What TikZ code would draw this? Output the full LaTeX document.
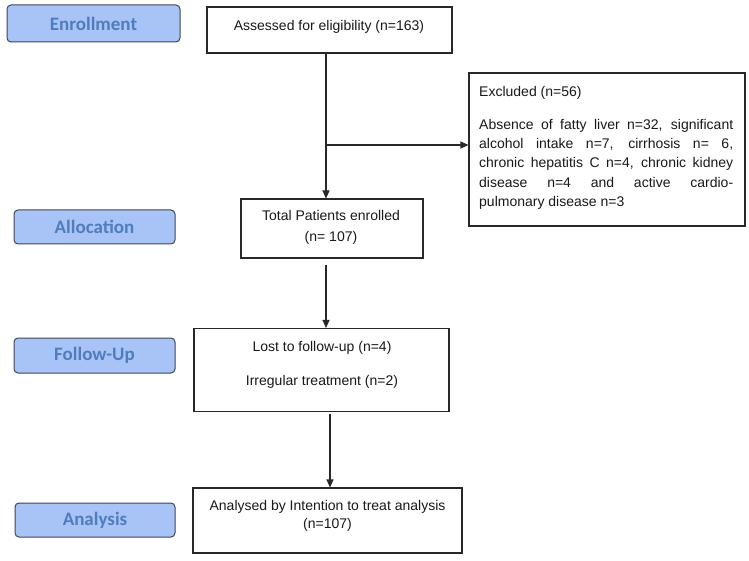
\documentclass[tikz,border=0pt]{standalone}
\usepackage{fontspec}
\setmainfont{Liberation Sans}
\newfontfamily\labelfont{Carlito}
\usetikzlibrary{arrows.meta}
\definecolor{lblfill}{RGB}{168,196,247}
\definecolor{lbltext}{RGB}{80,124,190}
\definecolor{lbledge}{RGB}{64,70,86}
\definecolor{boxedge}{RGB}{40,40,40}
\definecolor{txtc}{RGB}{25,25,25}
\begin{document}
\begin{tikzpicture}[x=1pt,y=-1pt,
  stage/.style={draw=lbledge,line width=1pt,fill=lblfill,rounded corners=4pt,
    text=lbltext,font=\labelfont\bfseries\fontsize{19}{22}\selectfont,inner sep=0pt},
  flowbox/.style={draw=boxedge,line width=1.1pt,inner sep=0pt},
  txt/.style={text=txtc,font=\fontsize{14}{18}\selectfont,align=center,inner sep=0pt},
  arr/.style={draw=boxedge,line width=1.1pt,-{Triangle[length=8pt,width=7pt]}},
  ln/.style={draw=boxedge,line width=1.1pt}]
\useasboundingbox[fill=white] (0,0) rectangle (749,561);

% stage labels
\node[stage,minimum width=173pt,minimum height=37pt] (enr) at (93.5,23.5) {Enrollment};
\node[stage,minimum width=161pt,minimum height=34pt] (alo) at (94.5,227) {Allocation};
\node[stage,minimum width=161pt,minimum height=35pt] (fol) at (94.5,355.5) {Follow-Up};
\node[stage,minimum width=160pt,minimum height=34pt] (ana) at (95,520) {Analysis};

% flow boxes
\node[flowbox,minimum width=245pt,minimum height=46pt] (assess) at (329.5,30) {};
\node[txt] (assesst) at (329,27) {Assessed for eligibility (n=163)};

\node[flowbox,minimum width=276pt,minimum height=153pt] (excl) at (607,149.5) {};
\node[txt,anchor=west] (exclt) at (479,92.5) {Excluded (n=56)};
\node[text=txtc,font=\fontsize{14}{19.3}\selectfont,inner sep=0pt,anchor=north west,align=left] (exclp) at (479,119)
  {\makebox[254pt][s]{Absence of fatty liver n=32, significant}\\
   \makebox[254pt][s]{alcohol intake n=7, cirrhosis n= 6,}\\
   \makebox[254pt][s]{chronic hepatitis C n=4, chronic kidney}\\
   \makebox[254pt][s]{disease n=4 and active cardio-}\\
   pulmonary disease n=3};

\node[flowbox,minimum width=182pt,minimum height=59pt] (total) at (332,228.5) {};
\node[txt,font=\fontsize{14}{21}\selectfont] (totalt) at (331,227.5) {Total Patients enrolled\\(n= 107)};

\node[flowbox,minimum width=255pt,minimum height=83pt] (fu) at (321.5,370) {};
\node[txt,font=\fontsize{14}{34}\selectfont] (fut) at (322,365) {Lost to follow-up (n=4)\\Irregular treatment (n=2)};

\node[flowbox,minimum width=269pt,minimum height=65pt] (an) at (327.5,520.5) {};
\node[txt,font=\fontsize{14}{18}\selectfont] (ant) at (327.5,516) {Analysed by Intention to treat analysis\\(n=107)};

% connectors
\coordinate (v1) at (326,0);
\coordinate (v2) at (330,0);
\coordinate (br) at (326,145);
\draw[arr] (assess.south -| v1) -- (total.north -| v1);
\draw[arr] (br) -- (br -| excl.west);
\draw[arr,shorten <=6pt] (total.south -| v1) -- (fu.north -| v1);
\draw[arr,shorten <=2pt] (fu.south -| v2) -- (an.north -| v2);
\end{tikzpicture}
\end{document}
